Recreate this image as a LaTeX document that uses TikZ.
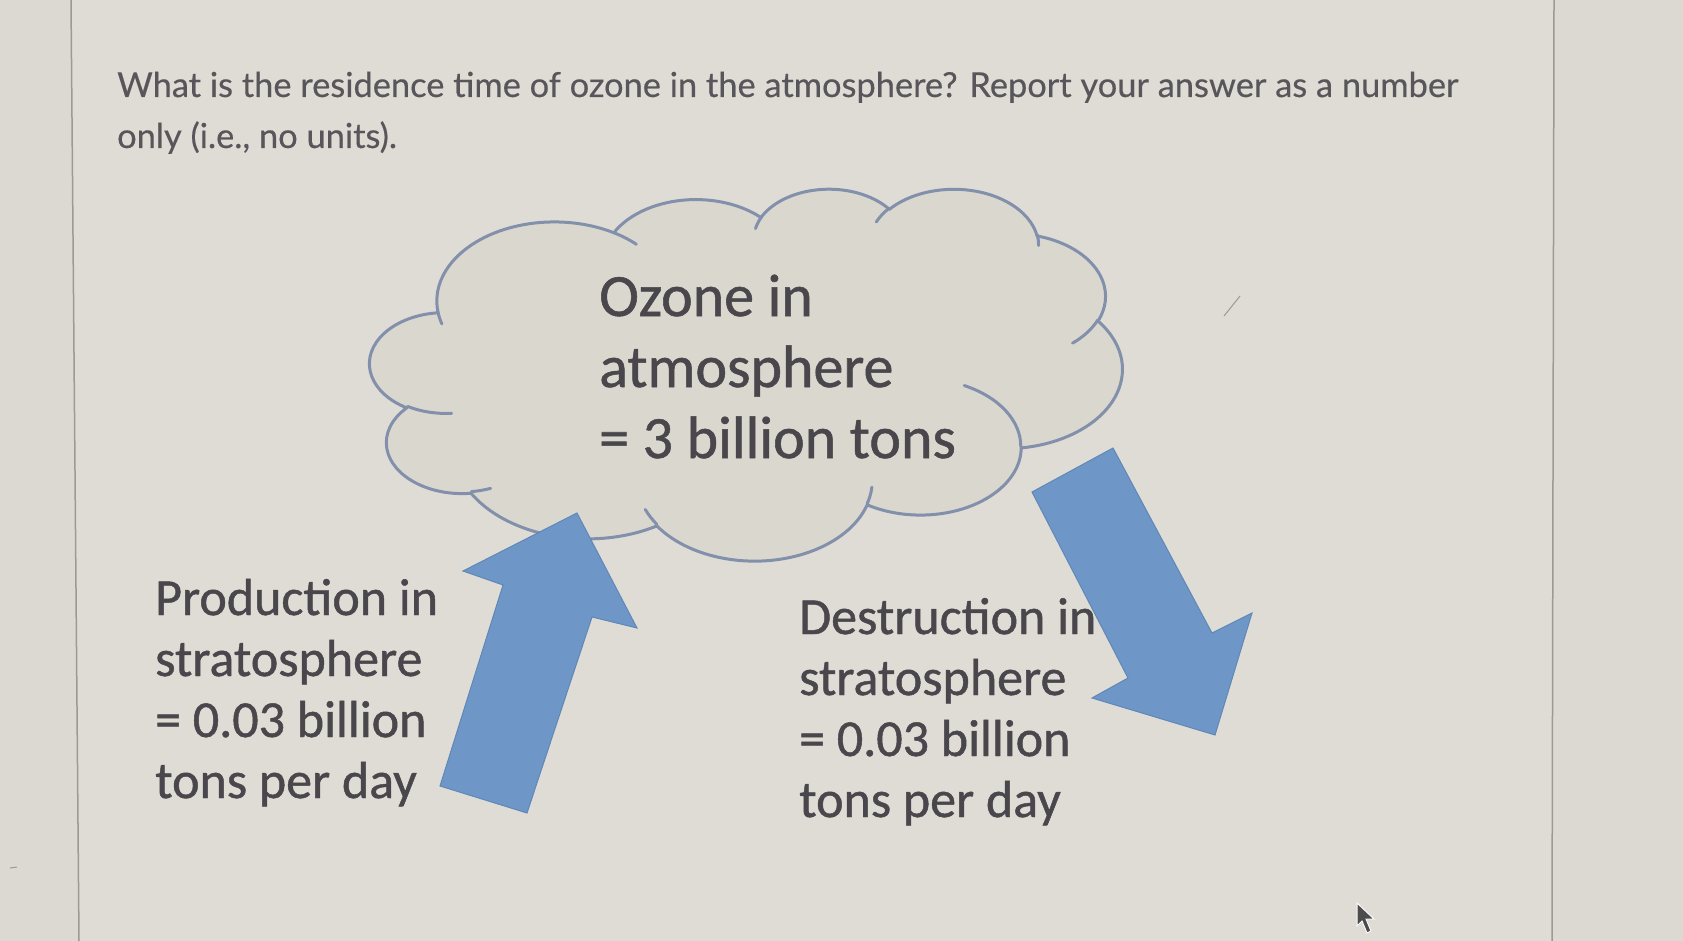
\documentclass[tikz,border=0pt]{standalone}
\usepackage{fontspec}
\newfontfamily\carl{Carlito}[FakeBold=0.9]
\newfontfamily\lato{Lato}[FakeBold=0.4]
\definecolor{bg}{HTML}{DFDCD6}
\definecolor{bgside}{HTML}{DCD9D3}
\definecolor{panelline}{HTML}{9C9A96}
\definecolor{cloudfill}{HTML}{DAD7CF}
\definecolor{cloudline}{HTML}{8290AB}
\definecolor{arrowfill}{HTML}{6E96C6}
\definecolor{arrowline}{HTML}{5F87B7}
\definecolor{txt}{HTML}{4A474C}
\definecolor{qtxt}{HTML}{58565A}
\newcommand\ooarc[4]{arc[x radius=#1, y radius=#2, start angle={atan2((#1)*sin(#3),(#2)*cos(#3))}, delta angle={mod(atan2((#1)*sin((#3)+(#4)),(#2)*cos((#3)+(#4)))-atan2((#1)*sin(#3),(#2)*cos(#3))+720,360)}]}
\tikzset{
  qline/.style={anchor=base west, inner sep=0pt, text=qtxt, font=\lato\fontsize{34.4}{41}\selectfont},
  cline/.style={anchor=base west, inner sep=0pt, text=txt, font=\carl\fontsize{60}{72}\selectfont},
  sline/.style={anchor=base west, inner sep=0pt, text=txt, font=\carl\fontsize{52}{62}\selectfont},
  cloudsty/.style={fill=cloudfill, draw=cloudline, line width=3pt, line join=round},
  cloudinner/.style={draw=cloudline, line width=3pt, line cap=round},
  blockarrow/.style={fill=arrowfill, draw=arrowline, line width=1pt, line join=miter},
}
\begin{document}
\begin{tikzpicture}[x=1pt, y=-1pt]
\useasboundingbox (0,0) rectangle (1683,941);
\fill[bg] (0,0) rectangle (1683,941);
\fill[bgside] (0,0) -- (71,0) -- (79,941) -- (0,941) -- cycle;
\fill[bgside] (1554,0) -- (1683,0) -- (1683,941) -- (1552,941) -- cycle;
\draw[panelline, line width=1.5pt] (71,0) -- (79,941);
\draw[panelline, line width=1.5pt] (1554,0) -- (1552,941);

% question
\node[qline] (q1) at (117,97) {What is the residence time of ozone in the atmosphere? Report your answer as a number};
\node[qline] (q2) at (117,148) {only (i.e., no units).};

% cloud (PowerPoint cloud geometry)
\begin{scope}[shift={(370,188)}, x=0.0174074pt, y=-0.0086111pt]
\path[cloudsty] (3900,14370)
  \ooarc{6753}{9190}{-190.48748}{123.78053}
  \ooarc{5333}{7267}{-144.10238}{89.94523}
  \ooarc{4365}{5945}{-145.80792}{99.72302}
  \ooarc{4857}{6595}{-130.98607}{117.24173}
  \ooarc{5333}{7273}{-78.70888}{109.02692}
  \ooarc{6775}{9220}{-46.26725}{130.269}
  \ooarc{5785}{7867}{0.62502}{114.03333}
  \ooarc{6752}{9215}{22.4516}{115.17255}
  \ooarc{7720}{10543}{66.24263}{75.71102}
  \ooarc{4360}{5918}{-274.94208}{146.73557}
  \ooarc{4345}{5945}{-246.8285}{152.51885}
  -- cycle;
\draw[cloudinner] (4693,26177) \ooarc{4345}{5945}{86.742}{26.4295};
\draw[cloudinner] (6928,34899) \ooarc{4360}{5918}{73.61047}{11.44747};
\draw[cloudinner] (16478,39090) \ooarc{6752}{9215}{137.62415}{14.0811};
\draw[cloudinner] (28827,34751) \ooarc{6752}{9215}{6.45327}{15.99835};
\draw[cloudinner] (34129,22954) \ooarc{5785}{7867}{-70.29235}{70.91737};
\draw[cloudinner] (41798,15354) \ooarc{5333}{7273}{30.31803}{27.7515};
\draw[cloudinner] (38324,5426) \ooarc{4857}{6595}{-13.74433}{14.85925};
\draw[cloudinner] (29078,3952) \ooarc{4857}{6595}{-149.18145}{18.19275};
\draw[cloudinner] (22141,4720) \ooarc{4365}{5945}{-163.49427}{17.69925};
\draw[cloudinner] (14000,5192) \ooarc{6753}{9190}{-66.70695}{12.31935};
\draw[cloudinner] (4127,15789) \ooarc{6753}{9190}{157.65435}{11.85817};
\end{scope}

\node[cline] (c1) at (599,316) {Ozone in};
\node[cline] (c2) at (599,387) {atmosphere};
\node[cline] (c3) at (599,458) {= 3 billion tons};

% production arrow
\draw[blockarrow] (577,513) -- (637,628) -- (592,617) -- (527,813) -- (440,786) -- (503,585) -- (463,571) -- cycle;
% destruction arrow
\draw[blockarrow] (1113,448) -- (1032,492) -- (1128,678) -- (1092,698) -- (1215,735) -- (1252,613) -- (1212,633) -- cycle;

\node[sline] (p1) at (155,615) {Production in};
\node[sline] (p2) at (155,676) {stratosphere};
\node[sline] (p3) at (155,737) {= 0.03 billion};
\node[sline] (p4) at (155,798) {tons per day};

\node[sline] (d1) at (799,634) {Destruction in};
\node[sline] (d2) at (799,695) {stratosphere};
\node[sline] (d3) at (799,756) {= 0.03 billion};
\node[sline] (d4) at (799,817) {tons per day};

% small marks and mouse cursor
\draw[panelline, line width=1pt] (1224,316) -- (1240,296);
\draw[panelline, line width=1pt] (10,868) -- (17,867);
\fill[fill=black!70, draw=white!85!bg, line width=1pt] (1357,903) -- (1357,926) -- (1362,921) -- (1367,933) -- (1371,931) -- (1366,919) -- (1374,919) -- cycle;
\end{tikzpicture}
\end{document}
